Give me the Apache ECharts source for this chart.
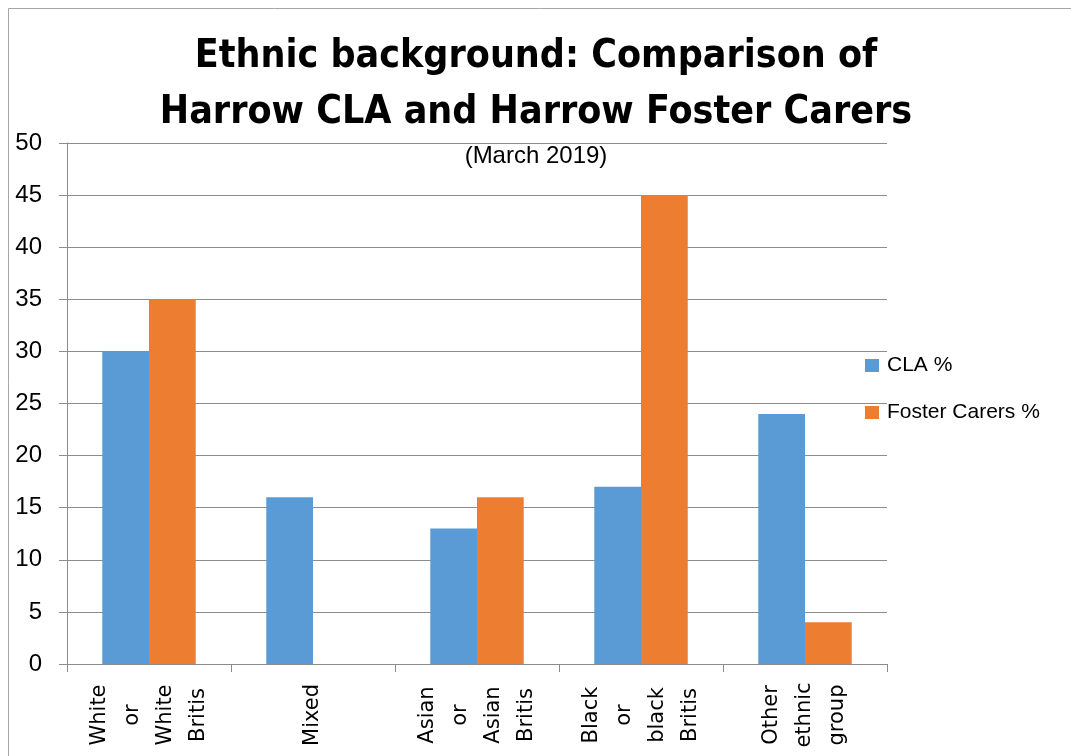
<!DOCTYPE html>
<html>
<head>
<meta charset="utf-8">
<script src="https://cdn.jsdelivr.net/npm/echarts@6/dist/echarts.min.js"></script>
<style>
html,body{margin:0;padding:0;background:#fff;}
#chart{width:1071px;height:756px;}
</style>
</head>
<body>
<div id="chart"></div>
<script>
const titleText = 'Ethnic background: Comparison of\nHarrow CLA and Harrow Foster Carers';
const subtitleText = '(March 2019)';
const categories = ['White\nor\nWhite\nBritis', 'Mixed', 'Asian\nor\nAsian\nBritis', 'Black\nor\nblack\nBritis', 'Other\nethnic\ngroup'];
const seriesNames = ['CLA %', 'Foster Carers %'];
const claValues = [30, 16, 13, 17, 24];
const fosterValues = [35, 0, 16, 45, 4];
const yTicks = { min: 0, max: 50, interval: 5 };

const chart = echarts.init(document.getElementById('chart'));
const gray = '#8c8c8c';
chart.setOption({
  animation: false,
  backgroundColor: '#fff',
  graphic: [{
    type: 'rect',
    shape: { x: 8.5, y: 8.5, width: 1200, height: 1000 },
    style: { fill: 'none', stroke: '#a6a6a6', lineWidth: 1 },
    silent: true
  }],
  title: [{
    text: titleText,
    left: 531,
    top: 24,
    textAlign: 'center',
    textStyle: {
      fontFamily: "'Liberation Sans Narrow', 'DejaVu Sans Condensed', sans-serif",
      fontWeight: 'bold',
      fontSize: 39,
      lineHeight: 56,
      color: '#000'
    }
  }, {
    text: subtitleText,
    left: 531,
    top: 139,
    textAlign: 'center',
    textStyle: {
      fontFamily: "'Liberation Sans', sans-serif",
      fontWeight: 'normal',
      fontSize: 24,
      color: '#000'
    }
  }],
  legend: {
    orient: 'vertical',
    left: 865,
    top: 355,
    padding: 0,
    itemWidth: 14,
    itemHeight: 13,
    itemGap: 26,
    icon: 'rect',
    data: seriesNames,
    textStyle: {
      fontFamily: "'Liberation Sans', sans-serif",
      fontSize: 21,
      color: '#000',
      padding: [0, 0, 0, 3]
    }
  },
  grid: { left: 67, right: 184, top: 143, bottom: 92, containLabel: false },
  xAxis: {
    type: 'category',
    data: categories,
    axisLine: { lineStyle: { color: gray, width: 1 } },
    axisTick: { show: true, length: 8, lineStyle: { color: gray } },
    axisLabel: {
      interval: 0,
      rotate: 90,
      align: 'center',
      margin: 51,
      padding: [10, 0, 0, 0],
      fontFamily: "'DejaVu Sans', sans-serif",
      fontSize: 21,
      lineHeight: 33,
      color: '#000'
    }
  },
  yAxis: {
    type: 'value',
    min: yTicks.min,
    max: yTicks.max,
    interval: yTicks.interval,
    axisLine: { show: true, lineStyle: { color: gray, width: 1 } },
    axisTick: { show: true, length: 8, lineStyle: { color: gray } },
    splitLine: { show: true, lineStyle: { color: gray, width: 1 } },
    axisLabel: {
      margin: 25,
      fontFamily: "'Liberation Sans', sans-serif",
      fontSize: 24,
      color: '#000'
    }
  },
  series: [{
    name: seriesNames[0],
    type: 'bar',
    data: claValues,
    barGap: '0%',
    barCategoryGap: '43%',
    itemStyle: { color: '#5B9BD5' }
  }, {
    name: seriesNames[1],
    type: 'bar',
    data: fosterValues,
    barGap: '0%',
    barCategoryGap: '43%',
    itemStyle: { color: '#ED7D31' }
  }]
});
</script>
</body>
</html>
